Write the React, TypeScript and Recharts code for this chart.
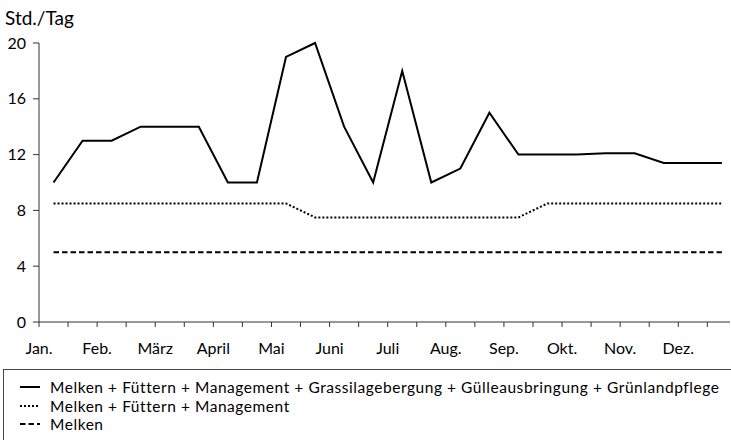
import React from 'react'
import { LineChart, Line, XAxis, YAxis } from 'recharts'

// Monatsnamen (Beschriftung jeweils am Monatsanfang)
const months = ['Jan.', 'Feb.', 'März', 'April', 'Mai', 'Juni', 'Juli', 'Aug.', 'Sep.', 'Okt.', 'Nov.', 'Dez.']

// Std./Tag je Halbmonat
const totalHours = [10, 13, 13, 14, 14, 14, 10, 10, 19, 20, 14, 10, 18, 10, 11, 15, 12, 12, 12, 12.1, 12.1, 11.4, 11.4, 11.4]
const feedingHours = [8.5, 8.5, 8.5, 8.5, 8.5, 8.5, 8.5, 8.5, 8.5, 7.5, 7.5, 7.5, 7.5, 7.5, 7.5, 7.5, 7.5, 8.5, 8.5, 8.5, 8.5, 8.5, 8.5, 8.5]
const milkingHours = [5, 5, 5, 5, 5, 5, 5, 5, 5, 5, 5, 5, 5, 5, 5, 5, 5, 5, 5, 5, 5, 5, 5, 5]

const yTicks = [0, 4, 8, 12, 16, 20]
const xTicks = Array.from({ length: 24 }, (_, i) => i)

const series = [
  { key: 'total', name: 'Melken + Füttern + Management + Grassilagebergung + Gülleausbringung + Grünlandpflege', dash: undefined },
  { key: 'feeding', name: 'Melken + Füttern + Management', dash: '2 2' },
  { key: 'milking', name: 'Melken', dash: '5.5 3' },
]

const data = totalHours.map((v, i) => ({
  x: i + 0.5,
  total: v,
  feeding: feedingHours[i],
  milking: milkingHours[i],
}))

const font = 'Lato, "Open Sans", sans-serif'

const App: React.FC = () => {
  return (
    <div
      style={{
        position: 'absolute',
        left: 0,
        top: 0,
        width: 731,
        height: 440,
        overflow: 'hidden',
        background: '#fff',
        fontFamily: font,
        color: '#000',
      }}
    >
      <div style={{ position: 'absolute', left: 5, top: 7.5, fontSize: 19, lineHeight: '19px' }}>Std./Tag</div>
      <LineChart
        width={731}
        height={364}
        data={data}
        margin={{ top: 43, right: 1, left: 0, bottom: 0 }}
        style={{ fontFamily: font, position: 'absolute', left: 0, top: 0 }}
      >
        <XAxis
          dataKey="x"
          type="number"
          domain={[0, 23.78]}
          ticks={xTicks}
          interval={0}
          height={42}
          tickSize={5}
          tickMargin={16}
          tickFormatter={(i: number) => (i % 2 === 0 ? months[i / 2] : '')}
          tick={{ fontSize: 16, fill: '#000' }}
          axisLine={{ stroke: '#333' }}
          tickLine={{ stroke: '#333' }}
        />
        <YAxis
          domain={[0, 20]}
          ticks={yTicks}
          width={39}
          tickSize={6}
          tickMargin={7}
          tick={{ fontSize: 16, fill: '#000' }}
          axisLine={{ stroke: '#333' }}
          tickLine={{ stroke: '#333' }}
        />
        {series.map((s) => (
          <Line
            key={s.key}
            dataKey={s.key}
            type="linear"
            stroke="#000"
            strokeWidth={2}
            strokeDasharray={s.dash}
            dot={false}
            activeDot={false}
            isAnimationActive={false}
          />
        ))}
      </LineChart>
      <div
        style={{
          position: 'absolute',
          left: 3,
          top: 369,
          width: 760,
          height: 100,
          border: '1px solid #444',
          boxSizing: 'border-box',
          padding: '8px 0 0 16px',
          fontSize: 15.5,
          letterSpacing: 0.55,
          lineHeight: '18.6px',
        }}
      >
        {series.map((s) => (
          <div key={s.key} style={{ display: 'flex', alignItems: 'center', height: 18.6 }}>
            <svg width={20} height={6} style={{ marginRight: 10, display: 'block' }}>
              <line x1={0} y1={3} x2={20} y2={3} stroke="#000" strokeWidth={2} strokeDasharray={s.dash} />
            </svg>
            <span style={{ whiteSpace: 'nowrap' }}>{s.name}</span>
          </div>
        ))}
      </div>
    </div>
  )
}

export default App
